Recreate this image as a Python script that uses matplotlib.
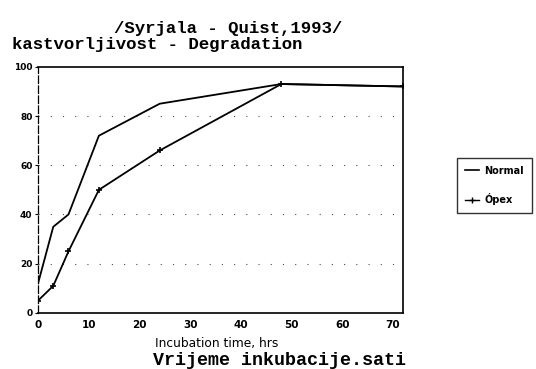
import numpy as np
from matplotlib import pyplot as plt
from matplotlib.lines import Line2D

plt.rcParams['font.family'] = 'DejaVu Sans'
plt.rcParams['font.weight'] = 'bold'

# hours of incubation
hours = [0, 3, 6, 12, 24, 48, 72]
normal = [12, 35, 40, 72, 85, 93, 92]
opex = [5, 11, 25, 50, 66, 93, 92]

x_ticks = [0, 10, 20, 30, 40, 50, 60, 70]
y_ticks = [0, 20, 40, 60, 80, 100]

fig = plt.figure(figsize=(5.36, 3.69), dpi=100)
ax = fig.add_axes([0.071, 0.152, 0.681, 0.667])

ax.plot(hours, normal, color='black', lw=1.3)
ax.plot(hours, opex, color='black', lw=1.3, marker='+', ms=5, mew=1.2)

# sparse dotted grid
for y in [20, 40, 60, 80]:
    ax.axhline(y, color='black', lw=0.8, ls=(0, (1, 10)), alpha=0.7)

ax.set_xlim(0, 72)
ax.set_ylim(0, 100)
ax.set_xticks(x_ticks)
ax.set_yticks(y_ticks)
ax.tick_params(axis='y', labelsize=6.5, length=2, width=0.8, direction='out', pad=2)
ax.tick_params(axis='x', labelsize=7.5, length=0, pad=5)
for lab in ax.get_xticklabels() + ax.get_yticklabels():
    lab.set_fontweight('bold')

ax.spines['left'].set_linestyle((0, (6, 2)))
ax.spines['left'].set_linewidth(0.9)
for s in ['top', 'right', 'bottom']:
    ax.spines[s].set_linewidth(1.2)

# titles in typewriter style
fig.text(0.213, 0.922, "/Syrjala - Quist,1993/", family='Liberation Mono',
         fontsize=12.5, fontweight='bold', ha='left', va='center')
fig.text(0.022, 0.879, "kastvorljivost - Degradation", family='Liberation Mono',
         fontsize=12.5, fontweight='bold', ha='left', va='center')

fig.text(0.289, 0.07, "Incubation time, hrs", fontsize=8.8, fontweight='normal',
         ha='left', va='center')
fig.text(0.285, 0.024, "Vrijeme inkubacije.sati", family='Liberation Mono',
         fontsize=13.2, fontweight='bold', ha='left', va='center')

handles = [Line2D([], [], color='black', lw=1.2),
           Line2D([], [], color='black', lw=1.0, marker='+', ms=5)]
leg = fig.legend(handles, ['Normal', 'Ópex'], loc='upper left',
                 bbox_to_anchor=(0.853, 0.572), fontsize=7, frameon=True,
                 fancybox=False, handlelength=1.4, handletextpad=0.6,
                 borderpad=0.8, labelspacing=1.8, edgecolor='black',
                 borderaxespad=0)
leg.get_frame().set_linewidth(1.0)

fig.savefig('out.png', dpi=100)
